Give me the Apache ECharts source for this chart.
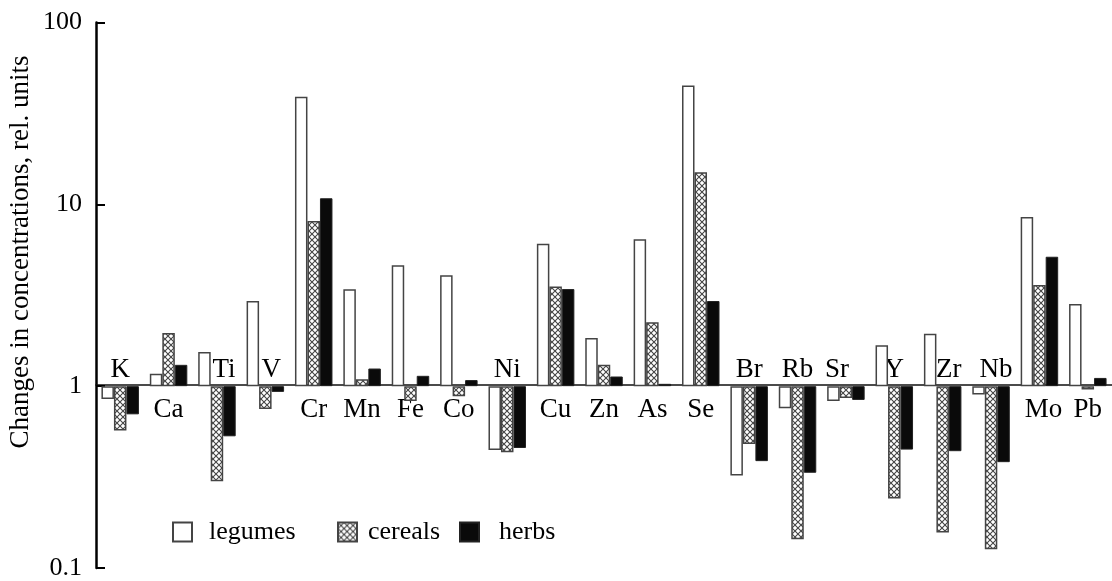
<!DOCTYPE html>
<html>
<head>
<meta charset="utf-8">
<script src="https://cdn.jsdelivr.net/npm/echarts@6/dist/echarts.min.js"></script>
<style>
  html, body { margin: 0; padding: 0; background: #fff; }
  #chart { width: 1112px; height: 581px; }
</style>
</head>
<body>
<div id="chart"></div>
<script>
// elements, in the order they appear along the axis
var elements = ['K', 'Ca', 'Ti', 'V', 'Cr', 'Mn', 'Fe', 'Co', 'Ni', 'Cu', 'Zn',
  'As', 'Se', 'Br', 'Rb', 'Sr', 'Y', 'Zr', 'Nb', 'Mo', 'Pb'];
// element names written above the baseline (the rest go below it)
var labelsAbove = ['K', 'Ti', 'V', 'Ni', 'Br', 'Rb', 'Sr', 'Y', 'Zr', 'Nb'];

var legumes = [0.85, 1.17, 1.54, 2.94, 39.0, 3.41, 4.63, 4.08, 0.446, 6.08, 1.84,
  6.42, 45.1, 0.323, 0.756, 0.83, 1.68, 1.94, 0.90, 8.51, 2.83];
var cereals = [0.57, 1.96, 0.30, 0.75, 8.1, 1.09, 0.83, 0.88, 0.433, 3.53, 1.31,
  2.25, 15.0, 0.481, 0.144, 0.86, 0.241, 0.157, 0.127, 3.60, 0.96];
var herbs = [0.70, 1.31, 0.53, 0.93, 10.8, 1.25, 1.14, 1.08, 0.457, 3.42, 1.13,
  1.03, 2.94, 0.387, 0.334, 0.84, 0.448, 0.439, 0.382, 5.15, 1.11];

var yMin = 0.1, yMax = 100;
var yName = 'Changes in concentrations, rel. units';

var FONT = '"Liberation Serif", "DejaVu Serif", serif';
var LABEL_SIZE = 27;

// a few labels sit off-centre in the original (px, + = right)
var nudge = { Ti: 7, V: 6, Sr: -9, Zr: 6, Nb: 5, Mo: 4 };

var rich = {
  n: { fontFamily: FONT, fontSize: LABEL_SIZE, color: '#000' }
};
Object.keys(nudge).forEach(function (k) {
  var d = nudge[k];
  rich['s' + k] = {
    fontFamily: FONT, fontSize: LABEL_SIZE, color: '#000',
    padding: d > 0 ? [0, 0, 0, 2 * d] : [0, -2 * d, 0, 0]
  };
});

function labelText(v) {
  return nudge[v] !== undefined ? '{s' + v + '|' + v + '}' : '{n|' + v + '}';
}

// cross-hatch fill for cereals
function hatch() {
  var c = document.createElement('canvas');
  c.width = 6; c.height = 6;
  var g = c.getContext('2d');
  g.fillStyle = '#fff';
  g.fillRect(0, 0, 6, 6);
  g.strokeStyle = '#444';
  g.lineWidth = 1.1;
  g.beginPath();
  g.moveTo(0, 0); g.lineTo(6, 6);
  g.moveTo(6, 0); g.lineTo(0, 6);
  g.stroke();
  return c;
}
var hatchFill = { image: hatch(), repeat: 'repeat' };

var chart = echarts.init(document.getElementById('chart'));

var gridTop = 22.5, gridBottomY = 571.5, baseY = 388.5;

function legendAt(name, left, pad) {
  return {
    data: [name],
    left: left,
    top: 514,
    itemWidth: 19,
    itemHeight: 19,
    icon: 'rect',
    selectedMode: false,
    textStyle: { fontFamily: FONT, fontSize: 26, color: '#000', padding: [0, 0, 0, pad] }
  };
}

var option = {
  backgroundColor: '#fff',
  animation: false,
  grid: { left: 96, top: gridTop, width: 1025, height: gridBottomY - gridTop },
  legend: [
    legendAt('legumes', 167, 12),
    legendAt('cereals', 332, 6),
    legendAt('herbs', 454, 15)
  ],
  xAxis: [{
    type: 'category',
    data: elements,
    position: 'bottom',
    offset: -(gridBottomY - baseY),
    axisLine: { onZero: false, lineStyle: { color: '#111', width: 1.5 } },
    axisTick: { inside: true, length: 9, lineStyle: { color: '#000', width: 2 } },
    axisLabel: {
      interval: 0,
      hideOverlap: false,
      margin: 11,
      fontFamily: FONT, fontSize: LABEL_SIZE, color: '#000',
      rich: rich,
      formatter: function (v) { return labelsAbove.indexOf(v) >= 0 ? '' : labelText(v); }
    }
  }, {
    type: 'category',
    data: elements,
    position: 'top',
    offset: -(baseY - gridTop),
    axisLine: { show: false },
    axisTick: { show: false },
    axisLabel: {
      interval: 0,
      hideOverlap: false,
      margin: 5,
      fontFamily: FONT, fontSize: LABEL_SIZE, color: '#000',
      rich: rich,
      formatter: function (v) { return labelsAbove.indexOf(v) >= 0 ? labelText(v) : ''; }
    }
  }],
  yAxis: {
    type: 'log',
    logBase: 10,
    min: yMin,
    max: yMax,
    axisLine: { show: true, lineStyle: { color: '#000', width: 2.5 } },
    axisTick: { show: true, inside: true, length: 9, lineStyle: { color: '#000', width: 2 } },
    minorTick: { show: false },
    splitLine: { show: false },
    axisLabel: { margin: 14, fontFamily: FONT, fontSize: 26, color: '#000' }
  },
  graphic: [{
    type: 'text',
    rotation: Math.PI / 2,
    x: 21, y: 252,
    style: {
      text: yName,
      font: '27px ' + FONT,
      fill: '#000',
      align: 'center',
      verticalAlign: 'middle'
    }
  }],
  series: [{
    name: 'legumes', type: 'bar', data: legumes,
    barWidth: 12.5, barGap: '0%',
    itemStyle: { color: '#fff', borderColor: '#444', borderWidth: 1.5 }
  }, {
    name: 'cereals', type: 'bar', data: cereals,
    barWidth: 12.5, barGap: '0%',
    itemStyle: { color: hatchFill, borderColor: '#444', borderWidth: 1.5 }
  }, {
    name: 'herbs', type: 'bar', data: herbs,
    barWidth: 12.5, barGap: '0%',
    itemStyle: { color: '#0a0a0a', borderColor: '#222', borderWidth: 1 }
  }]
};

chart.setOption(option);
</script>
</body>
</html>
